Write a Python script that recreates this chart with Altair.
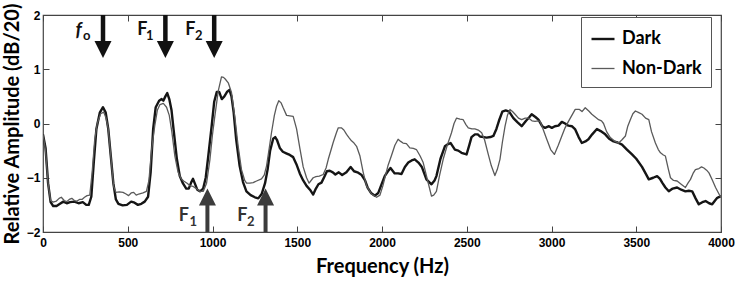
import altair as alt
import pandas as pd

# ---------------- data ----------------
dark_freq = [0, 15, 30, 45, 60, 80, 100, 120, 140, 160, 185, 210, 235, 255, 270, 285, 300, 315, 335, 354,
             370, 385, 400, 415, 430, 445, 470, 495, 520, 540, 560, 580, 600, 620, 635, 650, 665, 685, 700, 710,
             722, 733, 745, 758, 770, 790, 807, 825, 845, 860, 875, 885, 895, 910, 926, 945, 960, 975, 995, 1010,
             1025, 1040, 1055, 1070, 1085, 1100, 1112, 1125, 1140, 1160, 1180, 1200, 1225, 1250, 1270, 1290, 1310,
             1325, 1340, 1358, 1370, 1380, 1397, 1415, 1435, 1456, 1476, 1495, 1515, 1535, 1555, 1575, 1594, 1610,
             1625, 1643, 1660, 1675, 1692, 1710, 1725, 1745, 1765, 1790, 1815, 1835, 1855, 1880, 1900, 1915, 1935,
             1958, 1978, 2000, 2016, 2035, 2050, 2075, 2095, 2115, 2135, 2155, 2175, 2193, 2215, 2235, 2262, 2292,
             2310, 2321, 2345, 2371, 2390, 2405, 2430, 2450, 2469, 2499, 2515, 2528, 2548, 2565, 2578, 2600, 2617,
             2640, 2657, 2675, 2690, 2710, 2730, 2750, 2775, 2800, 2824, 2850, 2870, 2883, 2905, 2923, 2945, 2962,
             2985, 3002, 3020, 3041, 3061, 3080, 3100, 3120, 3140, 3160, 3179, 3200, 3218, 3240, 3268, 3290, 3317,
             3340, 3366, 3390, 3416, 3445, 3475, 3500, 3534, 3555, 3574, 3600, 3623, 3640, 3653, 3672, 3692, 3715,
             3741, 3765, 3790, 3810, 3830, 3850, 3869, 3890, 3909, 3930, 3948, 3965, 3978, 4000]
dark_amp = [-0.2, -0.45, -1.1, -1.45, -1.52, -1.52, -1.48, -1.44, -1.47, -1.45, -1.44, -1.47, -1.45, -1.5, -1.5,
            -1.35, -0.7, -0.1, 0.2, 0.3, 0.2, -0.1, -0.6, -1.1, -1.4, -1.48, -1.51, -1.5, -1.44, -1.46, -1.5, -1.48,
            -1.44, -1.35, -0.9, -0.1, 0.3, 0.42, 0.45, 0.42, 0.5, 0.56, 0.45, 0.25, -0.1, -0.66, -0.97, -1.1, -1.2,
            -1.2, -1.08, -1.02, -1.1, -1.22, -1.25, -1.2, -1.0, -0.6, -0.05, 0.4, 0.58, 0.58, 0.45, 0.5, 0.58, 0.62,
            0.5, 0.2, -0.3, -0.78, -1.08, -1.25, -1.32, -1.36, -1.38, -1.3, -1.1, -0.85, -0.5, -0.28, -0.25, -0.3,
            -0.45, -0.52, -0.55, -0.58, -0.62, -0.75, -0.92, -1.05, -1.15, -1.22, -1.31, -1.2, -1.12, -1.09, -0.98,
            -0.88, -0.87, -0.9, -0.94, -0.9, -0.95, -0.9, -0.8, -0.88, -0.9, -0.95, -1.05, -1.18, -1.28, -1.33,
            -1.28, -1.1, -0.97, -0.88, -0.82, -0.92, -0.92, -0.93, -0.8, -0.72, -0.68, -0.66, -0.72, -0.8, -1.03,
            -1.12, -1.05, -0.97, -0.65, -0.42, -0.38, -0.36, -0.48, -0.5, -0.54, -0.57, -0.4, -0.25, -0.2, -0.2,
            -0.24, -0.25, -0.26, -0.25, -0.23, -0.1, 0.05, 0.22, 0.24, 0.22, 0.1, 0.02, -0.05, 0.05, 0.12, 0.17,
            0.12, 0.07, -0.05, -0.08, -0.05, -0.08, -0.05, -0.04, 0.03, 0.0, -0.04, -0.05, -0.11, -0.25, -0.36,
            -0.33, -0.29, -0.2, -0.1, -0.14, -0.2, -0.28, -0.33, -0.35, -0.39, -0.48, -0.57, -0.65, -0.8, -0.92,
            -1.03, -1.0, -0.97, -1.02, -1.09, -1.18, -1.25, -1.2, -1.18, -1.22, -1.25, -1.24, -1.25, -1.38, -1.49,
            -1.45, -1.43, -1.47, -1.49, -1.42, -1.37, -1.34]

nondark_freq = [0, 15, 30, 45, 60, 79, 95, 108, 125, 140, 155, 170, 185, 200, 215, 230, 245, 260, 276, 290, 305,
                320, 340, 358, 372, 385, 400, 417, 430, 450, 472, 490, 505, 520, 535, 550, 565, 590, 610, 625, 640,
                659, 675, 690, 710, 729, 745, 760, 778, 797, 815, 830, 850, 870, 886, 905, 925, 946, 965, 985, 1000,
                1014, 1034, 1053, 1065, 1075, 1093, 1112, 1132, 1151, 1171, 1190, 1201, 1220, 1240, 1260, 1289, 1305,
                1319, 1335, 1348, 1365, 1378, 1391, 1405, 1417, 1437, 1456, 1476, 1496, 1515, 1535, 1555, 1570, 1594,
                1610, 1630, 1653, 1670, 1683, 1700, 1712, 1730, 1742, 1760, 1775, 1791, 1805, 1820, 1835, 1850, 1870,
                1889, 1909, 1938, 1968, 1988, 2005, 2017, 2035, 2055, 2076, 2095, 2110, 2124, 2144, 2164, 2185, 2203,
                2225, 2243, 2265, 2292, 2305, 2321, 2340, 2361, 2385, 2410, 2425, 2440, 2460, 2479, 2495, 2509, 2530,
                2548, 2568, 2588, 2605, 2627, 2645, 2666, 2680, 2696, 2710, 2726, 2740, 2755, 2770, 2785, 2805, 2824,
                2845, 2864, 2885, 2903, 2920, 2933, 2952, 2972, 2995, 3017, 3040, 3061, 3080, 3100, 3120, 3140, 3165,
                3180, 3199, 3220, 3238, 3258, 3278, 3295, 3307, 3325, 3347, 3370, 3396, 3416, 3436, 3450, 3465, 3480,
                3495, 3515, 3534, 3555, 3574, 3590, 3613, 3630, 3643, 3660, 3672, 3690, 3702, 3720, 3741, 3765, 3790,
                3805, 3820, 3835, 3849, 3870, 3885, 3899, 3915, 3929, 3950, 3968, 3985, 4000]
nondark_amp = [-0.2, -0.5, -1.1, -1.42, -1.45, -1.43, -1.38, -1.36, -1.42, -1.44, -1.4, -1.38, -1.42, -1.43, -1.4,
               -1.4, -1.36, -1.33, -1.32, -0.9, -0.3, 0.0, 0.18, 0.21, 0.1, -0.1, -0.6, -1.16, -1.27, -1.26, -1.27,
               -1.3, -1.33, -1.28, -1.27, -1.32, -1.3, -1.28, -1.25, -1.05, -0.5, -0.05, 0.25, 0.35, 0.37, 0.3, 0.15,
               -0.15, -0.6, -0.9, -1.02, -1.06, -1.1, -1.15, -1.16, -1.2, -1.25, -1.25, -1.1, -0.66, -0.2, 0.14, 0.6,
               0.86, 0.85, 0.82, 0.75, 0.57, 0.11, -0.41, -0.85, -1.05, -1.1, -1.1, -1.09, -1.06, -1.02, -0.95, -0.78,
               -0.45, -0.17, 0.15, 0.32, 0.42, 0.38, 0.29, 0.15, 0.14, 0.13, -0.1, -0.45, -0.8, -1.0, -1.1, -1.0,
               -0.98, -0.97, -0.94, -0.82, -0.66, -0.48, -0.35, -0.18, -0.08, -0.08, -0.12, -0.2, -0.26, -0.32,
               -0.36, -0.42, -0.6, -0.9, -1.15, -1.3, -1.36, -1.32, -1.15, -1.0, -0.78, -0.6, -0.4, -0.29, -0.33,
               -0.36, -0.37, -0.45, -0.46, -0.48, -0.6, -0.72, -1.0, -1.34, -1.32, -1.25, -0.95, -0.66, -0.4, -0.17,
               0.0, 0.1, 0.08, 0.07, -0.02, -0.08, -0.1, -0.1, -0.12, -0.17, -0.3, -0.57, -0.78, -0.96, -0.85, -0.66,
               -0.35, -0.05, 0.15, 0.26, 0.22, 0.17, 0.1, 0.07, 0.1, 0.1, 0.05, 0.04, 0.05, 0.04, -0.12, -0.29, -0.48,
               -0.57, -0.4, -0.23, -0.08, 0.04, 0.15, 0.26, 0.26, 0.22, 0.29, 0.23, 0.17, 0.12, 0.07, 0.05, 0.0,
               -0.15, -0.26, -0.32, -0.36, -0.3, -0.23, -0.05, 0.07, 0.18, 0.23, 0.2, 0.17, 0.1, 0.07, -0.15, -0.36,
               -0.48, -0.54, -0.58, -0.6, -0.85, -1.0, -1.05, -1.06, -1.12, -1.18, -1.1, -1.03, -0.92, -0.85, -0.83,
               -0.8, -0.82, -0.86, -0.91, -1.05, -1.18, -1.28, -1.37]

series_names = ["Dark", "Non-Dark"]
x_ticks = [0, 500, 1000, 1500, 2000, 2500, 3000, 3500, 4000]
y_ticks = [-2, -1, 0, 1, 2]

# annotation arrows (frequency in Hz, amplitude in axis units)
top_arrow_freq = [354, 722, 1010]
top_arrow_base = [2, 2, 2]
top_arrow_end = [1.45, 1.45, 1.45]
top_arrow_head = [1.363, 1.363, 1.363]
bottom_arrow_freq = [970, 1313]
bottom_arrow_base = [-2, -2]
bottom_arrow_end = [-1.45, -1.45]
bottom_arrow_head = [-1.354, -1.354]

# annotation labels
fo_main = ["f"]
fo_freq = [211]
fo_amp = [1.73]
top_main = ["F", "F"]
top_main_freq = [586, 869]
top_main_amp = [1.73, 1.73]
top_sub = ["o", "1", "2"]
top_sub_freq = [258, 630, 919]
top_sub_amp = [1.62, 1.62, 1.62]
bot_main = ["F", "F"]
bot_main_freq = [831, 1176]
bot_main_amp = [-1.71, -1.71]
bot_sub = ["1", "2"]
bot_sub_freq = [887, 1226]
bot_sub_amp = [-1.82, -1.82]

# ---------------- chart ----------------
df = pd.concat([
    pd.DataFrame({"freq": dark_freq, "amp": dark_amp, "series": series_names[0]}),
    pd.DataFrame({"freq": nondark_freq, "amp": nondark_amp, "series": series_names[1]}),
])

XS = alt.Scale(domain=[0, 4000], nice=False, zero=False)
YS = alt.Scale(domain=[-2, 2], nice=False, zero=False)
TITLE_FONT = "Lato"
LABEL_FONT = "Liberation Sans"

lines = alt.Chart(df).mark_line(strokeJoin="round", clip=True).encode(
    x=alt.X("freq:Q", scale=XS, axis=None),
    y=alt.Y("amp:Q", scale=YS, axis=None),
    color=alt.Color("series:N", scale=alt.Scale(domain=series_names, range=["#151515", "#5a5a5a"]),
                    legend=alt.Legend(orient="none", legendX=538, legendY=2, title=None, strokeColor="#555",
                                      fillColor="white", padding=9, symbolType="stroke", symbolSize=529,
                                      symbolStrokeWidth=2.3, labelFont=TITLE_FONT, labelFontSize=18,
                                      labelFontWeight="bold", labelColor="black", rowPadding=8, labelOffset=6,
                                      cornerRadius=0)),
    strokeWidth=alt.StrokeWidth("series:N", scale=alt.Scale(domain=series_names, range=[2.4, 1.3]), legend=None),
)

top_df = pd.DataFrame({"freq": top_arrow_freq, "amp": top_arrow_base, "amp2": top_arrow_end, "head": top_arrow_head})
bot_df = pd.DataFrame({"freq": bottom_arrow_freq, "amp": bottom_arrow_base, "amp2": bottom_arrow_end,
                       "head": bottom_arrow_head})

top_shaft = alt.Chart(top_df).mark_rule(color="#111", strokeWidth=4.5).encode(
    x=alt.X("freq:Q", axis=None), y=alt.Y("amp:Q", axis=None), y2="amp2:Q")
top_head = alt.Chart(top_df).mark_point(shape="M-1,-1L1,-1L0,1Z", filled=True, fill="#111", opacity=1,
                                        size=289, strokeWidth=0).encode(
    x=alt.X("freq:Q", axis=None), y=alt.Y("head:Q", axis=None))
bot_shaft = alt.Chart(bot_df).mark_rule(color="#3c3c3c", strokeWidth=4).encode(
    x=alt.X("freq:Q", axis=None), y=alt.Y("amp:Q", axis=None), y2="amp2:Q")
bot_head = alt.Chart(bot_df).mark_point(shape="M-1,1L1,1L0,-1Z", filled=True, fill="#3c3c3c", opacity=1,
                                        size=289, strokeWidth=0).encode(
    x=alt.X("freq:Q", axis=None), y=alt.Y("head:Q", axis=None))


def label_layer(texts, freqs, amps, size, color, style="normal"):
    d = pd.DataFrame({"freq": freqs, "amp": amps, "txt": texts})
    return alt.Chart(d).mark_text(font=TITLE_FONT, fontSize=size, fontWeight="bold", fontStyle=style,
                                  color=color, align="center", baseline="middle").encode(
        x=alt.X("freq:Q", axis=None), y=alt.Y("amp:Q", axis=None), text="txt:N")


labels = [
    label_layer(fo_main, fo_freq, fo_amp, 19, "#111", "italic"),
    label_layer(top_main, top_main_freq, top_main_amp, 18, "#111"),
    label_layer(top_sub, top_sub_freq, top_sub_amp, 13, "#111"),
    label_layer(bot_main, bot_main_freq, bot_main_amp, 18, "#333"),
    label_layer(bot_sub, bot_sub_freq, bot_sub_amp, 13, "#333"),
]

inner = alt.layer(lines, top_shaft, top_head, bot_shaft, bot_head, *labels)

axis_df = pd.DataFrame({"freq": [0], "amp": [0]})

# bottom / left axes (ticks drawn inward through a negative offset)
frame_main = alt.Chart(axis_df).mark_point(opacity=0).encode(
    x=alt.X("freq:Q", scale=XS, axis=alt.Axis(
        values=x_ticks, format="d", orient="bottom", offset=-6, tickSize=6, domain=False, grid=False,
        labelFont=LABEL_FONT, labelFontWeight="bold", labelFontSize=12, labelColor="black", labelPadding=5,
        labelFlush=False, tickColor="#444", title="Frequency (Hz)", titleFont=TITLE_FONT, titleFontSize=20,
        titleFontWeight="bold", titleColor="black", titlePadding=8)),
    y=alt.Y("amp:Q", scale=YS, axis=alt.Axis(
        values=y_ticks, format="d", orient="left", offset=-6, tickSize=6, domain=False, grid=False,
        labelFont=LABEL_FONT, labelFontWeight="bold", labelFontSize=12, labelColor="black", labelPadding=3,
        labelFlush=False, tickColor="#444", title="Relative Amplitude (dB/20)", titleFont=TITLE_FONT,
        titleFontSize=20, titleFontWeight="bold", titleColor="black", titlePadding=4)),
)

# top / right mirrored ticks
frame_mirror = alt.Chart(axis_df).mark_point(opacity=0).encode(
    x=alt.X("freq:Q", scale=XS, axis=alt.Axis(values=x_ticks, orient="top", offset=-6, tickSize=6, labels=False,
                                             domain=False, grid=False, title=None, tickColor="#444")),
    y=alt.Y("amp:Q", scale=YS, axis=alt.Axis(values=y_ticks, orient="right", offset=-6, tickSize=6, labels=False,
                                            domain=False, grid=False, title=None, tickColor="#444")),
)

chart = alt.layer(inner, frame_main, frame_mirror).resolve_scale(x="independent", y="independent").properties(
    width=678, height=217,
    autosize=alt.AutoSizeParams(type="none"),
    padding={"left": 43, "top": 15, "right": 14, "bottom": 50},
    background="white",
).configure_view(stroke="#444", strokeWidth=1.2)

chart.save("out.html", embed_options={"renderer": "svg", "actions": False})
